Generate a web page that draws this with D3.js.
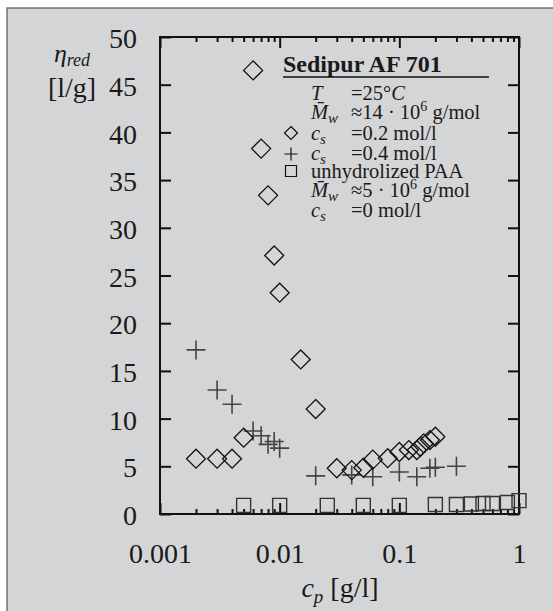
<!DOCTYPE html>
<html>
<head>
<meta charset="utf-8">
<script src="https://cdn.jsdelivr.net/npm/d3@7"></script>
<style>
  body { margin: 0; background: #fff; }
  svg text { font-family: "Liberation Serif", "DejaVu Serif", serif; fill: #1a1a1a; }
</style>
</head>
<body>
<div id="chart"></div>
<script>
// reduced viscosity of Sedipur AF 701 vs polymer concentration

// c_s = 0.2 mol/l  (diamonds)
var cpSalt02  = [0.002, 0.003, 0.004, 0.005, 0.006, 0.007, 0.008, 0.009, 0.01, 0.015, 0.02,
                 0.03, 0.04, 0.05, 0.06, 0.08, 0.1, 0.12, 0.14, 0.15, 0.16, 0.18, 0.2];
var etaSalt02 = [5.8, 5.8, 5.8, 8.0, 46.5, 38.3, 33.4, 27.1, 23.2, 16.2, 11.0,
                 4.8, 4.6, 4.85, 5.7, 5.85, 6.5, 6.7, 6.7, 7.05, 7.4, 7.75, 8.1];

// c_s = 0.4 mol/l  (crosses)
var cpSalt04  = [0.002, 0.003, 0.004, 0.006, 0.007, 0.008, 0.009, 0.01, 0.02, 0.04,
                 0.06, 0.1, 0.14, 0.18, 0.2, 0.3];
var etaSalt04 = [17.2, 13.0, 11.5, 8.7, 8.2, 7.3, 7.6, 6.9, 4.0, 4.1,
                 3.9, 4.4, 3.9, 4.8, 4.9, 5.0];

// unhydrolized PAA, c_s = 0  (squares)
var cpPAA  = [0.005, 0.01, 0.025, 0.05, 0.1, 0.2, 0.3, 0.4, 0.5, 0.6, 0.8, 1.0];
var etaPAA = [0.9, 0.9, 0.9, 0.9, 0.9, 1.0, 1.0, 1.05, 1.1, 1.1, 1.2, 1.4];

var xTicks = [0.001, 0.01, 0.1, 1];
var xTickLabels = ["0.001", "0.01", "0.1", "1"];
var yTicks = [0, 5, 10, 15, 20, 25, 30, 35, 40, 45, 50];

var W = 553, H = 611;
var pL = 160, pR = 519, pT = 37, pB = 514;   // plot frame

var svg = d3.select("#chart").append("svg")
    .attr("width", W).attr("height", H);

// grey panel, only top and left border show
svg.append("rect")
    .attr("x", 7).attr("y", 8)
    .attr("width", W + 20).attr("height", H + 20)
    .attr("fill", "#d4d5d7")
    .attr("stroke", "#555").attr("stroke-width", 1.2);

var x = d3.scaleLog().domain([0.001, 1]).range([pL, pR]);
var y = d3.scaleLinear().domain([0, 50]).range([pB, pT]);

var minor = [];
xTicks.slice(0, -1).forEach(function(d){
  for (var k = 2; k < 10; k++) minor.push(d * k);
});

function styleAxis(g){
  g.select(".domain").remove();
  g.selectAll("line").attr("stroke", "#111").attr("stroke-width", 2);
}

// x axes, ticks inward
svg.append("g").attr("transform", "translate(0," + pB + ")")
   .call(d3.axisBottom(x).tickValues(minor).tickFormat("").tickSize(-5))
   .call(styleAxis);
svg.append("g").attr("transform", "translate(0," + pT + ")")
   .call(d3.axisTop(x).tickValues(minor).tickFormat("").tickSize(-5))
   .call(styleAxis);
svg.append("g").attr("transform", "translate(0," + pT + ")")
   .call(d3.axisTop(x).tickValues(xTicks).tickFormat("").tickSize(-11))
   .call(styleAxis);
var xb = svg.append("g").attr("transform", "translate(0," + pB + ")")
   .call(d3.axisBottom(x).tickValues(xTicks)
         .tickFormat(function(d, i){ return xTickLabels[i]; })
         .tickSize(-11).tickPadding(29))
   .call(styleAxis);
xb.selectAll("text").attr("font-size", 28).attr("fill", "#1a1a1a")
   .style("font-family", "Liberation Serif, serif");

// y axes
var yl = svg.append("g").attr("transform", "translate(" + pL + ",0)")
   .call(d3.axisLeft(y).tickValues(yTicks).tickSize(-11).tickPadding(23))
   .call(styleAxis);
yl.selectAll("text").attr("font-size", 28).attr("fill", "#1a1a1a")
   .attr("dy", "0.38em")
   .style("font-family", "Liberation Serif, serif");
svg.append("g").attr("transform", "translate(" + pR + ",0)")
   .call(d3.axisRight(y).tickValues(yTicks).tickFormat("").tickSize(-11))
   .call(styleAxis);

// frame
svg.append("rect")
    .attr("x", pL).attr("y", pT)
    .attr("width", pR - pL).attr("height", pB - pT)
    .attr("fill", "none").attr("stroke", "#111").attr("stroke-width", 2);

// axis titles
var yt = svg.append("text").attr("x", 72).attr("y", 62)
    .attr("text-anchor", "middle").attr("font-size", 26);
yt.append("tspan").attr("font-style", "italic").text("η");
yt.append("tspan").attr("font-style", "italic").attr("font-size", 18).attr("dy", 4).text("red");
svg.append("text").attr("x", 72).attr("y", 97)
    .attr("text-anchor", "middle").attr("font-size", 28).text("[l/g]");

var xt = svg.append("text").attr("x", 340).attr("y", 597)
    .attr("text-anchor", "middle").attr("font-size", 28);
xt.append("tspan").attr("font-style", "italic").text("c");
xt.append("tspan").attr("font-style", "italic").attr("font-size", 19).attr("dy", 6).text("p");
xt.append("tspan").attr("dy", -6).text(" [g/l]");

// markers
function diamond(r){ return "M0," + (-r) + "L" + r + ",0L0," + r + "L" + (-r) + ",0Z"; }
function cross(r){ return "M" + (-r) + ",0H" + r + "M0," + (-r) + "V" + r; }
function square(r){ return "M" + (-r) + "," + (-r) + "H" + r + "V" + r + "H" + (-r) + "Z"; }

var plot = svg.append("g");

plot.selectAll(".paa").data(cpPAA).enter().append("path")
    .attr("class", "paa")
    .attr("d", square(7))
    .attr("transform", function(d, i){ return "translate(" + x(d) + "," + y(etaPAA[i]) + ")"; })
    .attr("fill", "none").attr("stroke", "#333").attr("stroke-width", 1.4);

plot.selectAll(".s04").data(cpSalt04).enter().append("path")
    .attr("class", "s04")
    .attr("d", cross(9.5))
    .attr("transform", function(d, i){ return "translate(" + x(d) + "," + y(etaSalt04[i]) + ")"; })
    .attr("fill", "none").attr("stroke", "#444").attr("stroke-width", 1.6);

plot.selectAll(".s02").data(cpSalt02).enter().append("path")
    .attr("class", "s02")
    .attr("d", diamond(9.5))
    .attr("transform", function(d, i){ return "translate(" + x(d) + "," + y(etaSalt02[i]) + ")"; })
    .attr("fill", "none").attr("stroke", "#111").attr("stroke-width", 1.3);

// legend block
var lg = svg.append("g");
lg.append("text").attr("x", 283).attr("y", 72).attr("font-size", 24)
  .attr("font-weight", "bold").text("Sedipur AF 701");
lg.append("line").attr("x1", 283).attr("x2", 489).attr("y1", 77).attr("y2", 77)
  .attr("stroke", "#111").attr("stroke-width", 1.6);

var c1 = 311, c2 = 351;
function row(yy, name, sub, rest){
  var t = lg.append("text").attr("x", c1).attr("y", yy).attr("font-size", 20.5);
  t.append("tspan").attr("font-style", "italic").text(name);
  if (sub) t.append("tspan").attr("font-style", "italic").attr("font-size", 15)
            .attr("dy", 4).text(sub);
  var r = lg.append("text").attr("x", c2).attr("y", yy).attr("font-size", 20.5);
  rest.forEach(function(s){
    var ts = r.append("tspan").text(s.t);
    if (s.sup) ts.attr("font-size", 14).attr("dy", -8);
    if (s.back) ts.attr("dy", 8);
    if (s.it) ts.attr("font-style", "italic");
  });
}
row(100, "T", null, [{t: "=25°"}, {t: "C", it: true}]);
row(118.5, "M\u0304", "w", [{t: "≈14 · 10"}, {t: "6", sup: true}, {t: " g/mol", back: true}]);
row(140, "c", "s", [{t: "=0.2 mol/l"}]);
row(160, "c", "s", [{t: "=0.4 mol/l"}]);
lg.append("text").attr("x", c1).attr("y", 178).attr("font-size", 20.5).text("unhydrolized PAA");
row(197, "M\u0304", "w", [{t: "≈5 · 10"}, {t: "6", sup: true}, {t: " g/mol", back: true}]);
row(216.5, "c", "s", [{t: "=0 mol/l"}]);

lg.append("path").attr("d", diamond(6.5)).attr("transform", "translate(291,133)")
  .attr("fill", "none").attr("stroke", "#111").attr("stroke-width", 1.2);
lg.append("path").attr("d", cross(6.5)).attr("transform", "translate(291,154)")
  .attr("fill", "none").attr("stroke", "#111").attr("stroke-width", 1.2);
lg.append("path").attr("d", square(5.5)).attr("transform", "translate(291,171)")
  .attr("fill", "none").attr("stroke", "#111").attr("stroke-width", 1.2);
</script>
</body>
</html>
